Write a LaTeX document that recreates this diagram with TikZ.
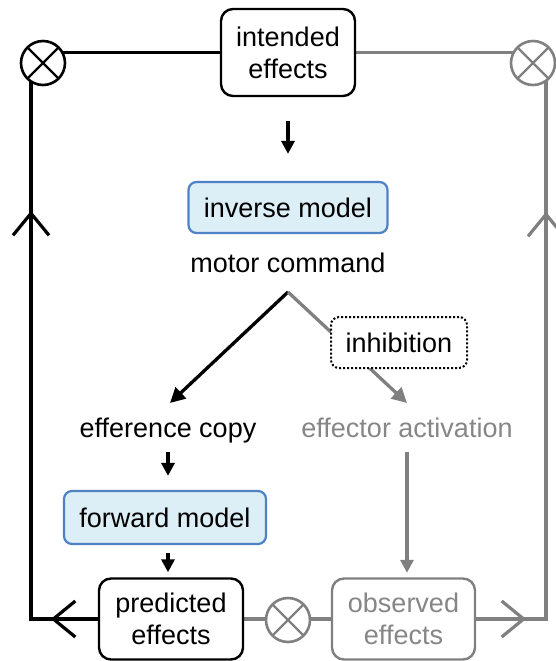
\documentclass[tikz,border=0pt]{standalone}
\usepackage{fontspec}
\setmainfont{Liberation Sans}
\usetikzlibrary{arrows.meta,decorations.markings,backgrounds}
\definecolor{loopgray}{HTML}{808080}
\definecolor{textgray}{HTML}{868686}
\definecolor{modelfill}{HTML}{DCEEF6}
\definecolor{modeledge}{HTML}{4F82C4}
\tikzset{barb/.tip={Straight Barb[length=22pt,width=36pt,line width=3.2pt]}}

\begin{document}
\begin{tikzpicture}[x=1pt, y=-1pt,
  font=\fontsize{27}{32}\selectfont,
  effbox/.style={draw, line width=2.4pt, rounded corners=12pt, fill=white,
    align=center, inner sep=0pt},
  graybox/.style={effbox, draw=loopgray, text=textgray},
  model/.style={draw=modeledge, fill=modelfill, line width=2.2pt,
    rounded corners=8pt, inner sep=0pt},
  inhib/.style={draw, line width=2pt, dash pattern=on 2pt off 2pt,
    rounded corners=8pt, fill=white, inner sep=0pt},
  label/.style={inner sep=0pt, anchor=base},
  sum/.style={circle, draw, fill=white, line width=2.6pt, minimum size=44pt,
    inner sep=0pt,
    path picture={\draw[line width=2.4pt]
      (path picture bounding box.north west) -- (path picture bounding box.south east)
      (path picture bounding box.north east) -- (path picture bounding box.south west);}},
  smallarrow/.style={line width=3.6pt, -{Triangle[length=13pt,width=13pt]}},
  fork/.style={line width=3.3pt, -{Triangle[length=15pt,width=15pt]}},
]
\useasboundingbox (0,0) rectangle (556,661);

% effect boxes
\node[effbox, minimum width=134pt, minimum height=87pt] (intended) at (288,52.5)
  {intended\\effects};
\node[effbox, minimum width=144pt, minimum height=81pt] (predicted) at (171,619)
  {predicted\\effects};
\node[graybox, minimum width=143pt, minimum height=81pt] (observed) at (403.5,619)
  {observed\\effects};

% internal models
\node[model, minimum width=199pt, minimum height=51pt] (inverse) at (288,207.5)
  {inverse model};
\node[model, minimum width=202pt, minimum height=53pt] (forward) at (165,517.5)
  {forward model};

% signals
\node[label] (motor) at (288,272) {motor command};
\node[label] (efference) at (168,437) {efference copy};
\node[label, text=textgray] (effector) at (407,437) {effector activation};
\node[inhib, minimum width=136pt, minimum height=51pt] (inhibition) at (399,342.5)
  {inhibition};

% comparators
\node[sum] (sumL) at (43,63) {};
\node[sum, draw=loopgray] (sumR) at (533,63) {};
\node[sum, draw=loopgray] (sumM) at (288,620) {};

% corners of the loops and branch points
\coordinate (lb) at (31,619);
\coordinate (lt) at (31,52.5);
\coordinate (rb) at (546,619);
\coordinate (rt) at (546,52.5);
\coordinate (split) at (288,292);
\coordinate (effTip) at (170,403);
\coordinate (actTip) at (407,403);

\begin{scope}[on background layer]
  % predicted loop (left) and observed loop (right)
  \draw[line width=3.2pt, postaction={decorate},
    decoration={markings,
      mark=at position 47pt with {\arrow{barb}},
      mark=at position 475pt with {\arrow{barb}}}]
    (predicted.west) -- (lb) -- (lt) -- (intended.west);
  \draw[loopgray, line width=3.2pt, postaction={decorate},
    decoration={markings,
      mark=at position 50pt with {\arrow{barb}},
      mark=at position 477pt with {\arrow{barb}}}]
    (observed.east) -- (rb) -- (rt) -- (intended.east);
  % comparison of predicted and observed effects
  \draw[loopgray, line width=3.2pt] (predicted.east) -- (observed.west);
  % motor command branches
  \draw[fork] (split) -- (effTip);
  \draw[fork, loopgray] (split) -- (actTip);
\end{scope}

% short flow arrows
\draw[smallarrow, shorten <=24pt, shorten >=27pt] (intended.south) -- (inverse.north);
\draw[smallarrow, shorten <=15pt, shorten >=14pt] (efference.base) -- (efference.base |- forward.north);
\draw[smallarrow, shorten <=8pt, shorten >=5pt] (efference.base |- forward.south) -- (efference.base |- predicted.north);
\draw[smallarrow, loopgray, shorten <=15pt, shorten >=4.5pt] (effector.base) -- (effector.base |- observed.north);
\end{tikzpicture}
\end{document}
